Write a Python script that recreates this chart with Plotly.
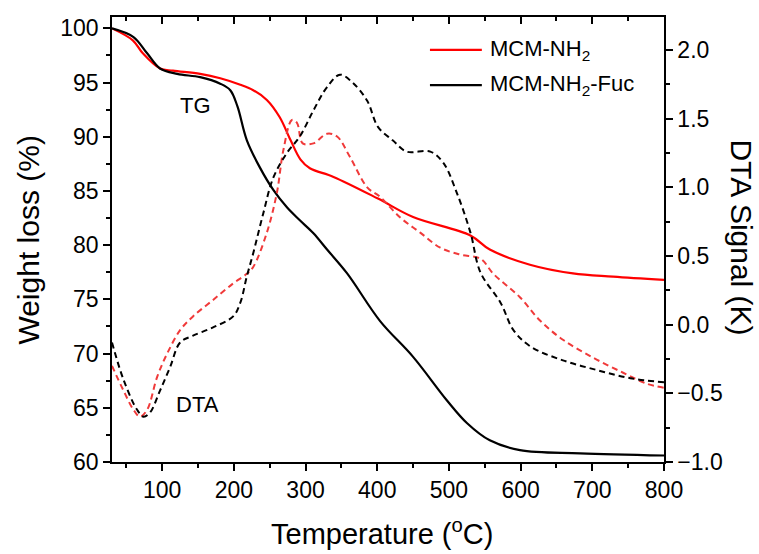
import plotly.graph_objects as go

# ---- TG data (left axis, Weight loss %) ----
tg_red_T = [30, 59, 73, 97, 115, 153, 181, 209, 227, 246, 264, 279, 293, 306, 339, 401, 450, 530, 557, 613, 673, 729, 800]
tg_red_W = [100, 98.9, 97.7, 96.3, 96.1, 95.8, 95.4, 94.8, 94.3, 93.4, 91.8, 89.7, 87.9, 87.1, 86.3, 84.3, 82.6, 80.9, 79.6, 78.2, 77.4, 77.1, 76.8]

tg_blk_T = [30, 60, 79, 97, 121, 153, 181, 195, 205, 218, 236, 255, 274, 292, 311, 330, 358, 404, 450, 497, 525, 557, 599, 683, 800]
tg_blk_W = [100, 99.2, 97.7, 96.3, 95.8, 95.5, 94.9, 94.3, 92.8, 89.7, 87.2, 85.1, 83.5, 82.3, 81.1, 79.6, 77.4, 73.0, 69.7, 65.7, 63.6, 62.0, 61.1, 60.8, 60.6]

# ---- DTA data (right axis, K) ----
dta_red_T = [30, 46, 60, 69, 79, 93, 107, 125, 143, 171, 199, 218, 227, 246, 260, 269, 281, 288, 296, 311, 330, 344, 362, 386, 404, 432, 460, 488, 516, 544, 562, 599, 627, 659, 701, 743, 776, 800]
dta_red_D = [-0.30, -0.48, -0.62, -0.67, -0.62, -0.38, -0.21, -0.04, 0.06, 0.18, 0.30, 0.37, 0.42, 0.67, 0.96, 1.27, 1.49, 1.47, 1.32, 1.32, 1.39, 1.37, 1.22, 1.00, 0.93, 0.78, 0.67, 0.56, 0.51, 0.48, 0.37, 0.20, 0.03, -0.11, -0.24, -0.35, -0.43, -0.46]

dta_blk_T = [30, 46, 65, 74, 83, 97, 111, 125, 143, 171, 199, 209, 218, 227, 241, 255, 274, 292, 311, 330, 348, 366, 386, 401, 422, 441, 474, 492, 511, 530, 544, 572, 590, 614, 659, 706, 753, 800]
dta_blk_D = [-0.13, -0.40, -0.62, -0.67, -0.64, -0.48, -0.31, -0.13, -0.08, -0.02, 0.06, 0.16, 0.35, 0.52, 0.81, 1.07, 1.25, 1.37, 1.56, 1.73, 1.82, 1.76, 1.63, 1.44, 1.34, 1.26, 1.26, 1.18, 0.96, 0.67, 0.38, 0.16, -0.04, -0.16, -0.26, -0.33, -0.39, -0.42]

x_ticks = [100, 200, 300, 400, 500, 600, 700, 800]
left_ticks = [60, 65, 70, 75, 80, 85, 90, 95, 100]
right_ticks = [-1.0, -0.5, 0.0, 0.5, 1.0, 1.5, 2.0]
right_labels = ["\u22121.0", "\u22120.5", "0.0", "0.5", "1.0", "1.5", "2.0"]
legend_names = ["MCM-NH<sub>2</sub>", "MCM-NH<sub>2</sub>-Fuc"]

RED = "#ff0000"
RED_DASH = "#f03a3a"
BLK = "#000000"
FONT = "Liberation Sans, Arial, sans-serif"

fig = go.Figure()
fig.add_trace(go.Scatter(x=dta_red_T, y=dta_red_D, yaxis="y2", mode="lines",
                         line=dict(color=RED_DASH, width=2, dash="6px,4px", shape="spline"),
                         showlegend=False))
fig.add_trace(go.Scatter(x=dta_blk_T, y=dta_blk_D, yaxis="y2", mode="lines",
                         line=dict(color=BLK, width=2, dash="6px,4px", shape="spline"),
                         showlegend=False))
fig.add_trace(go.Scatter(x=tg_red_T, y=tg_red_W, mode="lines", name=legend_names[0],
                         line=dict(color=RED, width=2.2, shape="spline"), showlegend=False))
fig.add_trace(go.Scatter(x=tg_blk_T, y=tg_blk_W, mode="lines", name=legend_names[1],
                         line=dict(color=BLK, width=2.2, shape="spline"), showlegend=False))
# dummy trace so the top axis is rendered
fig.add_trace(go.Scatter(x=[None], y=[None], xaxis="x2", showlegend=False))

TICKFONT = dict(family=FONT, size=23, color="black")
axis_common = dict(showline=True, linecolor="black", linewidth=1.5, showgrid=False,
                   zeroline=False, tickcolor="black", tickwidth=1.5, tickfont=TICKFONT)

def minor(step, side):
    return dict(ticks=side, dtick=step, tick0=0, ticklen=4, tickcolor="black", tickwidth=1.5)

fig.update_layout(
    width=759, height=554,
    margin=dict(l=112, r=95, t=17, b=92),
    paper_bgcolor="white", plot_bgcolor="white",
    font=dict(family=FONT, color="black"),
    showlegend=False,
    xaxis=dict(range=[30, 800], tickvals=x_ticks, ticks="outside", ticklen=7,
               minor=minor(50, "outside"), **axis_common),
    xaxis2=dict(range=[30, 800], overlaying="x", side="top", anchor="y",
                tickvals=x_ticks, ticks="inside", ticklen=7, showticklabels=False,
                minor=minor(50, "inside"), **axis_common),
    yaxis=dict(range=[60, 101.05], tickvals=left_ticks, ticks="outside", ticklen=7,
               minor=minor(2.5, "outside"), **axis_common),
    yaxis2=dict(range=[-1.0, 2.24], overlaying="y", side="right", anchor="x",
                tickvals=right_ticks, ticktext=right_labels, ticks="outside", ticklen=7,
                minor=minor(0.25, "outside"), **axis_common),
)

TITLEFONT = dict(family=FONT, size=30, color="black")
fig.add_annotation(text="Temperature (<sup>o</sup>C)", xref="paper", yref="paper",
                   x=0.49, y=-0.158, xanchor="center", yanchor="middle", showarrow=False,
                   font=dict(family=FONT, size=29, color="black"))
fig.add_annotation(text="Weight loss (%)", xref="paper", yref="paper", textangle=-90,
                   x=-0.152, y=0.5, xanchor="center", yanchor="middle", showarrow=False,
                   font=TITLEFONT)
fig.add_annotation(text="DTA Signal (K)", xref="paper", yref="paper", textangle=90,
                   x=1.141, y=0.505, xanchor="center", yanchor="middle", showarrow=False,
                   font=TITLEFONT)
fig.add_annotation(text="TG", x=146, y=92.9, xref="x", yref="y", showarrow=False,
                   font=dict(family=FONT, size=22, color="black"))
fig.add_annotation(text="DTA", x=149, y=65.3, xref="x", yref="y", showarrow=False,
                   font=dict(family=FONT, size=22, color="black"))

# legend (line samples + labels), drawn in paper coordinates
leg_y = [0.926, 0.847]
leg_col = [RED, BLK]
for name, yy, col in zip(legend_names, leg_y, leg_col):
    fig.add_shape(type="line", xref="paper", yref="paper", x0=0.576, x1=0.670, y0=yy, y1=yy,
                  line=dict(color=col, width=2.2))
    fig.add_annotation(text=name, xref="paper", yref="paper", x=0.682, y=yy,
                       xanchor="left", yanchor="middle", showarrow=False,
                       font=dict(family=FONT, size=22, color="black"))

fig.write_html("out.html", config={"displayModeBar": False},
               post_script="document.body.style.margin='0';")
